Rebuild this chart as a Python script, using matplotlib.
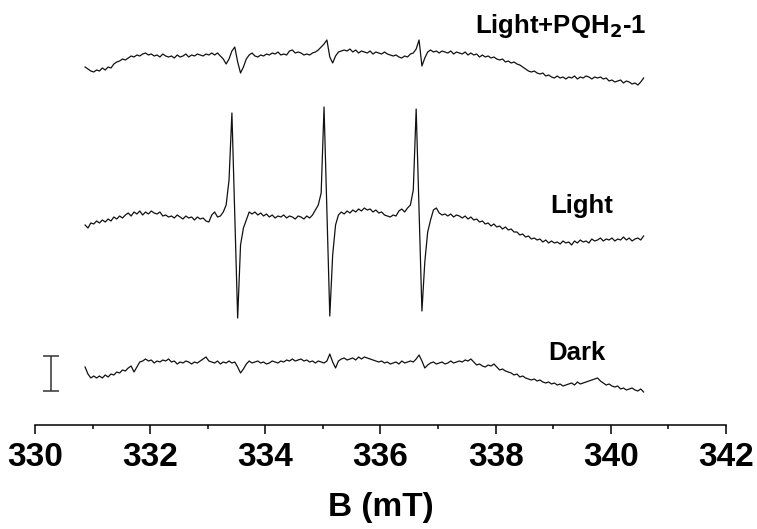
import matplotlib
matplotlib.use("Agg")
import matplotlib.pyplot as plt
import numpy as np

plt.rcParams['font.family'] = ['Liberation Sans', 'DejaVu Sans']
plt.rcParams['font.weight'] = 'bold'

# magnetic field sampling (mT)
field = np.round(330.87 + 0.05 * np.arange(195), 2)

# EPR signal, arbitrary units (first derivative), one value per field point
light_pqh2 = [
    -2, -4, -6, -7, -5, -6, -3, -5, -2, -3, 1, 3, 4, 6, 5,
    7, 9, 8, 10, 9, 11, 12, 10, 11, 9, 10, 8, 11, 9, 8,
    9, 7, 10, 8, 9, 11, 8, 10, 9, 11, 10, 9, 11, 10, 12,
    10, 12, 9, 6, 1, 6, 14, 18, 3, -8, -2, 6, 10, 12, 9,
    8, 10, 9, 11, 10, 12, 11, 13, 10, 11, 10, 14, 15, 12, 13,
    12, 10, 11, 10, 12, 13, 15, 18, 21, 25, 8, 2, 9, 13, 14,
    15, 14, 16, 13, 15, 12, 14, 13, 12, 14, 11, 13, 12, 11, 13,
    11, 10, 9, 10, 8, 7, 9, 8, 11, 12, 16, 25, -1, 7, 13,
    15, 13, 14, 12, 14, 13, 12, 14, 11, 13, 12, 11, 13, 10, 12,
    10, 11, 8, 10, 8, 9, 7, 8, 6, 5, 6, 3, 4, 2, 3,
    1, 0, -2, -4, -6, -7, -6, -8, -9, -8, -11, -10, -12, -13, -11,
    -13, -12, -14, -12, -13, -11, -14, -12, -13, -11, -12, -14, -12, -13, -12,
    -14, -13, -16, -15, -17, -16, -15, -18, -16, -17, -19, -18, -20, -17, -13,
]

light = [
    -10, -13, -8, -9, -6, -8, -5, -7, -4, -6, -2, -4, -1, -3, 0,
    2, -1, 3, 1, 4, 0, 3, 1, 4, 2, 1, 3, -1, 0, -2,
    -1, -3, 0, -2, -4, -1, -3, -2, -5, -2, -4, -3, -6, -7, 0,
    3, -2, -1, 3, 10, 35, 102, 0, -103, -30, -13, -5, 3, 1, 3,
    0, 2, -1, 1, -2, 0, -3, -1, -2, 0, -3, -1, -2, -4, -1,
    -2, -4, -1, -3, 0, 5, 10, 22, 108, 2, -101, -40, -10, 0, 3,
    1, 4, 2, 5, 3, 6, 4, 7, 5, 6, 3, 5, 2, 3, 0,
    -1, -2, 0, -1, 4, 6, 3, 7, 10, 25, 106, 5, -96, -47, -17,
    -5, 5, 7, 2, 0, 1, -1, 1, -2, 0, -1, -3, -1, -4, -2,
    -5, -4, -7, -6, -9, -8, -11, -9, -12, -11, -14, -12, -15, -14, -17,
    -17, -20, -19, -22, -21, -24, -23, -25, -24, -27, -25, -28, -26, -28, -27,
    -29, -26, -28, -27, -30, -26, -28, -25, -27, -26, -28, -24, -26, -25, -23,
    -26, -24, -25, -23, -26, -24, -25, -22, -25, -23, -26, -24, -23, -25, -21,
]

dark = [
    -4, -11, -15, -13, -15, -13, -15, -12, -14, -11, -12, -9, -10, -7, -8,
    -5, -3, -9, -4, 1, 2, 4, 2, 3, 0, 2, 1, 3, 2, 4,
    1, 2, -1, 1, 0, 2, 1, -1, 1, 0, 2, 4, 6, 2, 1,
    0, 2, -1, 1, 0, 2, 0, 1, -4, -10, -6, -1, 2, 0, 1,
    2, 0, 1, -1, 0, 2, 1, 0, 2, 1, 3, 2, 4, 2, 3,
    4, 2, 3, 1, 2, 0, 2, 1, 0, 2, 9, 1, -5, 2, 4,
    5, 3, 4, 5, 3, 6, 4, 6, 5, 4, 3, 2, 1, 2, 0,
    1, -1, 0, 1, -1, 2, 0, 1, 2, 1, 4, 8, 2, -5, -2,
    0, 1, -1, 0, 1, -1, 0, 2, 0, 1, 2, 1, 3, 2, 4,
    1, -2, -1, -3, -4, -2, -3, -1, -4, -7, -6, -8, -9, -10, -12,
    -11, -14, -13, -15, -16, -17, -16, -18, -17, -19, -20, -19, -21, -20, -22,
    -21, -23, -22, -21, -20, -22, -19, -21, -20, -19, -18, -17, -16, -15, -18,
    -20, -22, -21, -23, -24, -23, -26, -25, -27, -26, -25, -27, -28, -26, -29,
]

traces = [light_pqh2, light, dark]
names = ['Light+PQH$_\\mathbf{2}$-1', 'Light', 'Dark']
offsets = [360, 210, 62]
label_x = [337.64, 338.94, 338.91]
label_y = [392, 212, 65]

# intensity scale bar
bar_field = 330.28
bar_low, bar_high = 34, 69

fig = plt.figure(figsize=(7.57, 5.29), dpi=100)
ax = fig.add_axes([0.0462, 0.1966, 0.9128, 0.8034])

for sig, off, name, lx, ly in zip(traces, offsets, names, label_x, label_y):
    ax.plot(field, np.array(sig) + off, color='#111111', lw=0.9)
    ax.text(lx, ly, name, fontsize=18.5, fontweight='bold',
            ha='left', va='baseline')

ax.errorbar([bar_field], [(bar_low + bar_high) / 2],
            yerr=[(bar_high - bar_low) / 2], color='#333333',
            capsize=5.5, elinewidth=1.1, capthick=1.1, fmt='none')

ax.set_xlim(330, 342)
ax.set_ylim(0, 425)
ax.set_xticks(np.arange(330, 343, 2))
ax.set_xticks(np.arange(331, 342, 2), minor=True)
ax.tick_params(axis='x', which='major', direction='out', length=6.5,
               width=1.1, pad=5.5, labelsize=24)
ax.tick_params(axis='x', which='minor', direction='out', length=3, width=1.1)
ax.set_yticks([])
for side in ['left', 'right', 'top']:
    ax.spines[side].set_visible(False)
ax.spines['bottom'].set_linewidth(1.1)
for lbl in ax.get_xticklabels():
    lbl.set_fontweight('bold')
ax.set_xlabel('B (mT)', fontsize=24, fontweight='bold', labelpad=14)

fig.savefig('out.png', dpi=100)
